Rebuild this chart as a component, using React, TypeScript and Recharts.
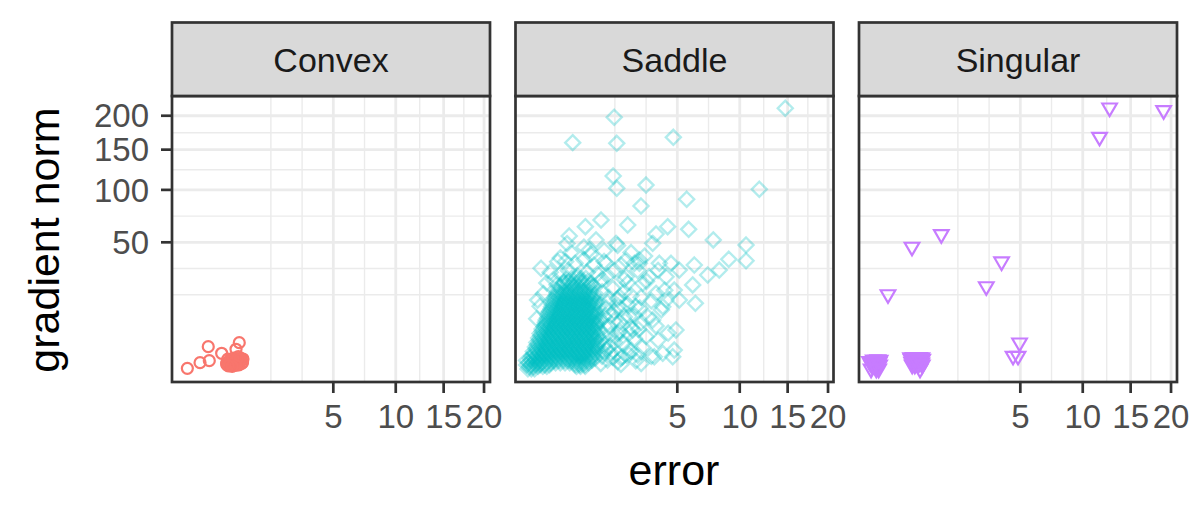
import React from "react";
import { ScatterChart, Scatter, XAxis, YAxis, CartesianGrid } from "recharts";

// facets
const panelNames = ["Convex", "Saddle", "Singular"];
const panelColors = ["#F8766D", "#00BFC4", "#C77CFF"];
const panelLefts = [172, 515.5, 859];

// axes (sqrt scales on both)
const xTicks = [5, 10, 15, 20];
const yTicks = [50, 100, 150, 200];
const xMinorGrid = [1.716, 3.144, 7.286, 12.374, 17.41];
const yMinorGrid = [17.16, 31.43, 72.85, 123.74, 174.1];
const xDomain: [number, number] = [-0.0247, 20.8];
const yDomain: [number, number] = [-0.536, 232.4];

// [error, gradient norm]
const convexPoints: [number, number][] = [
  [0.005, 0.001], [0.067, 0.12], [0.145, 1.54], [0.157, 0.21], [0.336, 0.76],
  [0.707, 2.14], [0.628, 1.2], [0.428, 0.098], [0.537, 0.148], [0.683, 0.465],
  [0.769, 0.098], [0.628, 0.075], [0.474, 0.047], [0.803, 0.306], [0.582, 0.371],
  [0.45, 0.3], [0.52, 0.05], [0.7, 0.2], [0.75, 0.35], [0.6, 0.25],
  [0.43, 0.06], [0.46, 0.12], [0.49, 0.2], [0.52, 0.1], [0.55, 0.18], [0.58, 0.08],
  [0.61, 0.15], [0.64, 0.22], [0.67, 0.1], [0.7, 0.05], [0.73, 0.16], [0.76, 0.25],
  [0.79, 0.12], [0.5, 0.28], [0.56, 0.32], [0.66, 0.33], [0.72, 0.28], [0.62, 0.04],
  [0.54, 0.02], [0.46, 0.03],
];

// dense core of the saddle cloud: [gradient norm, errors on that row]
const saddleCoreRows: [number, number[]][] = [
  [0, [0.0004, 0.005, 0.014]],
  [0.022, [0.002, 0.01, 0.029, 0.058, 0.09, 0.548, 0.64, 0.757]],
  [0.05, [0, 0.004, 0.017, 0.04, 0.073, 0.116, 0.518, 0.624, 0.74]],
  [0.12, [0.001, 0.008, 0.023, 0.048, 0.084, 0.13, 0.185, 0.25, 0.325, 0.41, 0.504, 0.608, 0.723, 0.846]],
  [0.226, [0, 0.004, 0.017, 0.04, 0.073, 0.116, 0.168, 0.23, 0.303, 0.384, 0.476, 0.578, 0.689, 0.81, 0.941]],
  [0.36, [0.003, 0.014, 0.036, 0.068, 0.109, 0.16, 0.221, 0.292, 0.372, 0.462, 0.563, 0.672, 0.792, 0.922, 1.04]],
  [0.526, [0.006, 0.023, 0.048, 0.084, 0.13, 0.185, 0.25, 0.325, 0.41, 0.504, 0.608, 0.723, 0.846, 0.98]],
  [0.72, [0.012, 0.032, 0.058, 0.096, 0.144, 0.203, 0.26, 0.336, 0.423, 0.518, 0.624, 0.74, 0.865, 1.0]],
  [0.951, [0.01, 0.029, 0.058, 0.096, 0.144, 0.203, 0.27, 0.348, 0.436, 0.533, 0.64, 0.757, 0.884, 1.02]],
  [1.21, [0.02, 0.044, 0.078, 0.116, 0.168, 0.23, 0.303, 0.384, 0.476, 0.578, 0.689, 0.81, 0.941, 1.082]],
  [1.5, [0.017, 0.04, 0.073, 0.116, 0.168, 0.23, 0.303, 0.384, 0.476, 0.578, 0.689, 0.81, 0.941, 1.082]],
  [1.82, [0.026, 0.053, 0.09, 0.137, 0.194, 0.25, 0.325, 0.41, 0.504, 0.608, 0.723, 0.846, 0.98, 1.103]],
  [2.18, [0.023, 0.048, 0.084, 0.13, 0.185, 0.25, 0.325, 0.41, 0.504, 0.608, 0.723, 0.846, 0.98, 1.124]],
  [2.56, [0.036, 0.068, 0.109, 0.16, 0.221, 0.292, 0.36, 0.449, 0.548, 0.656, 0.774, 0.903, 1.04]],
  [2.98, [0.032, 0.063, 0.102, 0.152, 0.212, 0.281, 0.36, 0.449, 0.548, 0.656, 0.774, 0.903, 1.04]],
  [3.42, [0.044, 0.078, 0.123, 0.176, 0.24, 0.314, 0.397, 0.49, 0.593, 0.706, 0.828, 0.96, 1.103]],
  [3.9, [0.04, 0.073, 0.116, 0.168, 0.23, 0.303, 0.384, 0.476, 0.578, 0.689, 0.81, 0.941, 1.082]],
  [4.41, [0.053, 0.09, 0.137, 0.194, 0.26, 0.336, 0.423, 0.518, 0.624, 0.74, 0.865, 1.0]],
  [4.95, [0.053, 0.09, 0.137, 0.194, 0.26, 0.336, 0.423, 0.518, 0.624, 0.74, 0.865, 1.0, 1.145]],
  [5.52, [0.068, 0.109, 0.16, 0.221, 0.292, 0.372, 0.462, 0.563, 0.672, 0.792, 0.922, 1.061]],
  [6.13, [0.073, 0.116, 0.168, 0.23, 0.303, 0.384, 0.476, 0.578, 0.689, 0.81, 0.941, 1.082]],
  [6.76, [0.078, 0.123, 0.176, 0.24, 0.314, 0.397, 0.49, 0.593, 0.706, 0.828, 0.96, 1.103]],
  [7.43, [0.084, 0.13, 0.185, 0.25, 0.325, 0.41, 0.504, 0.608, 0.723, 0.846, 0.98, 1.124]],
  [8.12, [0.096, 0.144, 0.203, 0.27, 0.348, 0.436, 0.533, 0.64, 0.757, 0.884, 1.02]],
  [8.85, [0.102, 0.152, 0.212, 0.281, 0.36, 0.449, 0.548, 0.656, 0.774, 0.903, 1.04]],
  [9.61, [0.109, 0.16, 0.221, 0.292, 0.372, 0.462, 0.563, 0.672, 0.792, 0.922, 1.061]],
  [10.4, [0.116, 0.168, 0.23, 0.303, 0.384, 0.476, 0.578, 0.689, 0.81, 0.941, 1.082]],
  [11.2, [0.13, 0.185, 0.25, 0.325, 0.41, 0.504, 0.608, 0.723, 0.846, 0.98]],
  [12.08, [0.137, 0.194, 0.26, 0.336, 0.423, 0.518, 0.624, 0.74, 0.865, 1.0]],
  [13.0, [0.144, 0.203, 0.27, 0.348, 0.436, 0.533, 0.64, 0.757, 0.884, 1.02]],
  [13.88, [0.16, 0.221, 0.292, 0.372, 0.462, 0.563, 0.672, 0.792, 0.922, 1.061]],
  [14.8, [0.168, 0.23, 0.303, 0.384, 0.476, 0.578, 0.689, 0.81, 0.941]],
  [15.8, [0.176, 0.24, 0.314, 0.397, 0.49, 0.593, 0.706, 0.828, 0.96]],
  [16.8, [0.194, 0.26, 0.336, 0.423, 0.518, 0.624, 0.74, 0.865, 1.0]],
  [17.85, [0.203, 0.27, 0.348, 0.436, 0.533, 0.64, 0.757, 0.884, 1.02]],
  [18.9, [0.212, 0.281, 0.36, 0.449, 0.548, 0.656, 0.774, 0.903]],
  [21.2, [0.25, 0.325, 0.41, 0.504, 0.608, 0.723, 0.846, 0.98]],
  [23.5, [0.303, 0.384, 0.476, 0.578, 0.689, 0.81]],
  [25.5, [0.36, 0.449, 0.548, 0.656, 0.774]],
];

const saddleHalo: [number, number][] = [
  [1.254, 0.49], [1.563, 0.81], [1.96, 0.36], [1.323, 1.69], [1.69, 2.25], [2.19, 1.44],
  [1.254, 4.0], [1.488, 5.76], [1.904, 4.41], [2.403, 5.29], [1.323, 8.41], [1.69, 10.24],
  [2.103, 8.41], [1.44, 13.69], [1.823, 15.21], [2.25, 12.96], [1.254, 18.49], [1.638, 20.25],
  [2.56, 2.89], [2.56, 9.0], [1.21, 2.56], [1.44, 0.25], [2.103, 18.49], [2.89, 6.76],
  [2.89, 16.0], [1.823, 0.16],
  [1.323, 0.81], [1.69, 7.29], [1.39, 11.56], [1.96, 11.56], [2.4, 1.0], [1.563, 3.61],
  [2.25, 23.04], [2.72, 30.25], [1.96, 33.64],
  [1.21, 0.09], [1.392, 1.103], [1.638, 0.423], [1.769, 3.24], [2.016, 2.103], [2.31, 0.64],
  [2.624, 0.203], [2.958, 1.44], [3.423, 0.49], [3.803, 2.56], [1.21, 7.29], [1.563, 9.0],
  [1.904, 6.76], [2.31, 4.0], [2.756, 4.84], [3.24, 8.41], [3.686, 5.76], [1.166, 12.25],
  [1.488, 16.0], [1.85, 12.25], [2.403, 16.81], [2.822, 11.56], [3.423, 14.44], [4.0, 10.89],
  [1.254, 25.0], [1.69, 30.25], [2.103, 25.0], [2.56, 34.81], [3.168, 24.01], [3.803, 30.25],
  [1.323, 43.56], [1.823, 47.61], [2.403, 42.25], [3.063, 39.69], [0.723, 46.24], [0.36, 49.0],
  [4.41, 4.0], [4.203, 19.36], [1.96, 0.063], [2.89, 0.09],
  [0.203, 22.09], [0.303, 23.04], [0.462, 22.09], [0.64, 24.01], [0.903, 22.56], [1.21, 24.01],
  [0.25, 28.09], [0.384, 30.25], [0.563, 27.04], [0.81, 29.16], [1.103, 28.09], [1.44, 27.04],
  [0.336, 36], [0.518, 34.81], [0.723, 37.21], [1.0, 33.64], [0.16, 25], [0.436, 42.25],
  [0.903, 40.96], [1.323, 36], [0.25, 38.44],
  [0.04, 12.25], [0.0625, 17.64], [0.09, 23.04], [0.0225, 7.84], [0.1225, 29.16],
];

const saddleOutliers: [number, number][] = [
  [14.73, 212], [1.69, 197.6], [0.468, 159.7], [1.79, 158.8], [4.74, 167.4], [1.65, 116.1],
  [1.79, 101.8], [3.14, 105.5], [11.92, 100.7], [5.64, 89.8], [2.88, 82.8], [1.22, 69.2],
  [2.25, 64.6], [4.38, 63.1], [5.78, 60.8], [3.69, 56.8], [0.76, 63.1], [0.4, 55.1],
  [7.67, 51.9], [10.6, 47.9], [10.6, 36.5], [9.0, 37.5], [8.17, 30.5], [7.22, 27.5],
  [6.19, 33.7], [6.07, 22.0], [5.13, 30.5], [4.8, 19.4], [5.13, 14.8], [6.27, 13.4],
  [4.28, 14.8], [4.59, 34.8], [2.8, 37.0], [0.213, 35.9], [0.046, 31.6], [0.027, 14.8],
  [4.91, 4.72], [4.8, 1.11], [4.08, 0.76], [4.7, 0.46], [3.59, 0.46], [3.5, 7.46],
  [4.08, 12.1], [2.03, 0.46], [2.72, 0.6], [1.51, 1.54], [2.48, 4.72], [3.14, 3.24],
  [3.69, 17.8], [3.31, 26.5], [2.18, 26.5], [1.89, 16.3], [2.63, 12.1], [1.76, 49.2],
  [1.06, 51.9], [3.5, 49.2], [0.865, 44.1], [1.39, 34.8], [2.18, 37.0], [2.8, 34.8],
  [2.97, 22.9], [2.32, 8.5], [1.83, 3.96], [4.28, 26.5], [3.88, 34.8],
];

const singularPoints: [number, number][] = [
  [12.68, 212.9], [19.03, 208.6], [11.64, 167.8], [1.132, 56.5], [0.396, 46.4],
  [3.835, 35.9], [2.997, 21.2], [0.0745, 17.3], [4.95, 2.14], [4.53, 0.52], [4.85, 0.52],
  [0.0005, 0.0], [0.002, 0.1], [0.006, 0.2], [0.012, 0.05], [0.02, 0.15], [0.024, 0.25],
  [0.015, 0.27], [0.008, 0.02], [0.003, 0.26], [0.018, 0.0],
  [0.001, 0.05], [0.004, 0.15], [0.01, 0.25], [0.016, 0.1], [0.022, 0.05], [0.007, 0.12],
  [0.013, 0.2], [0.019, 0.22], [0.0, 0.18], [0.01, 0.0],
  [0.37, 0.4], [0.42, 0.42], [0.48, 0.38], [0.55, 0.42], [0.6, 0.4], [0.39, 0.15],
  [0.45, 0.05], [0.5, 0.2], [0.56, 0.0], [0.6, 0.12], [0.52, 0.3], [0.41, 0.3],
  [0.38, 0.3], [0.44, 0.25], [0.47, 0.1], [0.53, 0.08], [0.58, 0.25], [0.62, 0.3],
  [0.4, 0.05], [0.5, 0.42], [0.57, 0.35], [0.46, 0.33], [0.54, 0.22], [0.61, 0.05],
];

const toRows = (pts: [number, number][]) => pts.map(([x, y]) => ({ x, y }));

const saddleRows = [
  ...saddleCoreRows.flatMap(([y, xs]) => xs.map((x) => ({ x, y }))),
  ...toRows(saddleHalo),
  ...toRows(saddleOutliers),
];

const panelData = [toRows(convexPoints), saddleRows, toRows(singularPoints)];

const makeShape = (kind: number, color: string, alpha: number) => (p: any) => {
  const { cx, cy } = p;
  if (cx == null || cy == null) return <g />;
  if (kind === 0) {
    return <circle cx={cx} cy={cy} r={5.5} fill="none" stroke={color} strokeWidth={2.2} strokeOpacity={alpha} />;
  }
  if (kind === 1) {
    const d = 7.5;
    return (
      <path
        d={`M${cx},${cy - d}L${cx + d},${cy}L${cx},${cy + d}L${cx - d},${cy}Z`}
        fill="none"
        stroke={color}
        strokeWidth={2.4}
        strokeOpacity={alpha}
      />
    );
  }
  return (
    <path
      d={`M${cx - 7.3},${cy - 4.2}L${cx + 7.3},${cy - 4.2}L${cx},${cy + 8.4}Z`}
      fill="none"
      stroke={color}
      strokeWidth={2.2}
      strokeOpacity={alpha}
    />
  );
};

const FONT = "'Liberation Sans', Arial, Helvetica, sans-serif";
const tickStyle = { fill: "#4D4D4D", fontSize: 33, fontFamily: FONT };
const tickLine = { stroke: "#333333", strokeWidth: 2.7 };

const Panel = ({ idx }: { idx: number }) => {
  const first = idx === 0;
  return (
    <div style={{ position: "absolute", left: panelLefts[idx] - 172, top: 0 }}>
      <ScatterChart
        width={520}
        height={510}
        margin={{ top: 96, right: 30, bottom: 78, left: first ? 0 : 172 }}
      >
        <CartesianGrid
          stroke="#EBEBEB"
          strokeWidth={1.4}
          verticalValues={xMinorGrid}
          horizontalValues={yMinorGrid}
        />
        <CartesianGrid
          stroke="#EBEBEB"
          strokeWidth={2.8}
          verticalValues={xTicks}
          horizontalValues={yTicks}
        />
        <XAxis
          dataKey="x"
          type="number"
          scale="sqrt"
          domain={xDomain}
          allowDataOverflow
          ticks={xTicks}
          height={50}
          axisLine={false}
          tickLine={tickLine}
          tickSize={11}
          tickMargin={12}
          tick={tickStyle}
          interval={0}
        />
        <YAxis
          dataKey="y"
          type="number"
          scale="sqrt"
          domain={yDomain}
          allowDataOverflow
          ticks={yTicks}
          hide={!first}
          width={172}
          axisLine={false}
          tickLine={tickLine}
          tickSize={11}
          tickMargin={12}
          tick={tickStyle}
          interval={0}
        />
        <Scatter
          data={panelData[idx]}
          shape={makeShape(idx, panelColors[idx], idx === 1 ? 0.3 : 1)}
          isAnimationActive={false}
        />
      </ScatterChart>
    </div>
  );
};

export default function App() {
  return (
    <div
      style={{
        position: "absolute",
        left: 0,
        top: 0,
        width: 1200,
        height: 510,
        background: "#FFFFFF",
        overflow: "hidden",
      }}
    >
      {panelNames.map((_, i) => (
        <Panel key={i} idx={i} />
      ))}
      <svg
        width={1200}
        height={510}
        style={{ position: "absolute", left: 0, top: 0, pointerEvents: "none" }}
      >
        {panelNames.map((name, i) => (
          <g key={name}>
            <rect x={panelLefts[i]} y={96} width={318} height={286} fill="none" stroke="#333333" strokeWidth={2.7} />
            <rect x={panelLefts[i]} y={22.5} width={318} height={73.5} fill="#D9D9D9" stroke="#333333" strokeWidth={2.7} />
            <text
              x={panelLefts[i] + 159}
              y={72}
              textAnchor="middle"
              fontSize={34}
              fontFamily={FONT}
              fill="#1A1A1A"
            >
              {name}
            </text>
          </g>
        ))}
        <text x={674} y={485} textAnchor="middle" fontSize={43} fontFamily={FONT} fill="#000000">
          error
        </text>
        <text
          x={0}
          y={0}
          transform="translate(59,240) rotate(-90)"
          textAnchor="middle"
          fontSize={43}
          fontFamily={FONT}
          fill="#000000"
        >
          gradient norm
        </text>
      </svg>
    </div>
  );
}
